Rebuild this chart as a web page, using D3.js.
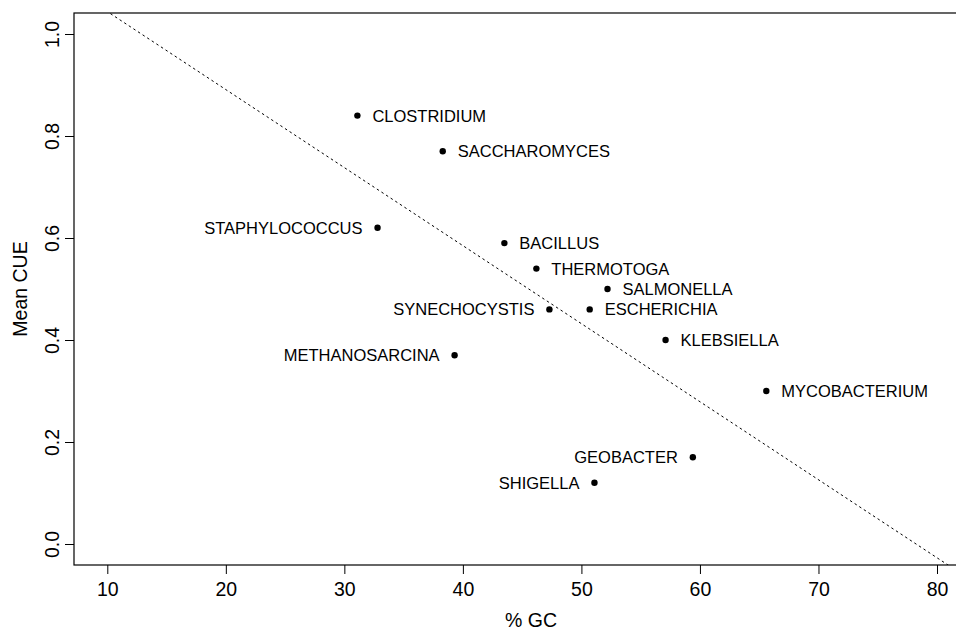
<!DOCTYPE html>
<html>
<head>
<meta charset="utf-8">
<script src="https://cdn.jsdelivr.net/npm/d3@7"></script>
<style>
  body { margin: 0; background: #fff; }
  text { font-family: "Liberation Sans", Arial, Helvetica, sans-serif; fill: #000; }
</style>
</head>
<body>
<div id="chart"></div>
<script>
// organisms, % GC and mean CUE
var genus = ['CLOSTRIDIUM', 'SACCHAROMYCES', 'STAPHYLOCOCCUS', 'BACILLUS', 'THERMOTOGA',
  'SALMONELLA', 'SYNECHOCYSTIS', 'ESCHERICHIA', 'KLEBSIELLA', 'METHANOSARCINA',
  'MYCOBACTERIUM', 'GEOBACTER', 'SHIGELLA'];
var gc = [31.1, 38.3, 32.8, 43.5, 46.2, 52.2, 47.3, 50.7, 57.1, 39.3, 65.6, 59.4, 51.1];
var cue = [0.84, 0.77, 0.62, 0.59, 0.54, 0.50, 0.46, 0.46, 0.40, 0.37, 0.30, 0.17, 0.12];
// labels drawn to the left of their point
var leftLabels = ['STAPHYLOCOCCUS', 'SYNECHOCYSTIS', 'METHANOSARCINA', 'GEOBACTER', 'SHIGELLA'];

var xTicks = [10, 20, 30, 40, 50, 60, 70, 80];
var yTicks = [0, 0.2, 0.4, 0.6, 0.8, 1.0];

// dashed trend line: cue = fitA + fitB * gc
var fitA = 1.197, fitB = -0.0153;

var W = 956, H = 632;
var box = { left: 74, top: 13, right: 970, bottom: 565 };

var svg = d3.select('#chart').append('svg')
  .attr('width', W)
  .attr('height', H);

var xScale = d3.scaleLinear().domain([10, 80]).range([107.3, 937]);
var yScale = d3.scaleLinear().domain([0, 1]).range([544, 34]);

svg.append('clipPath').attr('id', 'plotclip')
  .append('rect')
  .attr('x', box.left).attr('y', box.top)
  .attr('width', box.right - box.left).attr('height', box.bottom - box.top);

// box
svg.append('rect')
  .attr('x', box.left).attr('y', box.top)
  .attr('width', box.right - box.left).attr('height', box.bottom - box.top)
  .attr('fill', 'none')
  .attr('stroke', '#000')
  .attr('stroke-width', 1.2);

// axes
var xAxis = d3.axisBottom(xScale).tickValues(xTicks).tickSize(9).tickPadding(8)
  .tickFormat(d3.format('d'));
var gx = svg.append('g')
  .attr('transform', 'translate(0,' + box.bottom + ')')
  .call(xAxis);
gx.select('.domain').remove();
gx.selectAll('text').style('font-size', '19.5px').attr('font-family', null);
gx.selectAll('line').attr('stroke-width', 1);

var yAxis = d3.axisLeft(yScale).tickValues(yTicks).tickSize(9)
  .tickFormat(d3.format('.1f'));
var gy = svg.append('g')
  .attr('transform', 'translate(' + box.left + ',0)')
  .call(yAxis);
gy.select('.domain').remove();
gy.selectAll('line').attr('stroke-width', 1);
gy.selectAll('text')
  .attr('x', null).attr('dy', null)
  .attr('text-anchor', 'middle')
  .attr('transform', 'translate(-22,0) rotate(-90)')
  .attr('y', 0)
  .attr('dy', '0.35em')
  .style('font-size', '19.5px')
  .attr('font-family', null);

// axis titles
svg.append('text')
  .attr('x', 531).attr('y', 620)
  .attr('dy', '0.35em')
  .attr('text-anchor', 'middle')
  .style('font-size', '19.5px')
  .text('% GC');

svg.append('text')
  .attr('transform', 'translate(20,' + ((box.top + box.bottom) / 2) + ') rotate(-90)')
  .attr('dy', '0.35em')
  .attr('text-anchor', 'middle')
  .style('font-size', '19.5px')
  .text('Mean CUE');

// trend line
var lineData = [6, 84].map(function(g) { return { gc: g, cue: fitA + fitB * g }; });
var trend = d3.line()
  .x(function(d) { return xScale(d.gc); })
  .y(function(d) { return yScale(d.cue); });

svg.append('path')
  .attr('d', trend(lineData))
  .attr('clip-path', 'url(#plotclip)')
  .attr('fill', 'none')
  .attr('stroke', '#000')
  .attr('stroke-width', 1)
  .attr('stroke-dasharray', '2.5,3');

// points
var pts = genus.map(function(g, i) { return { name: g, gc: gc[i], cue: cue[i] }; });

svg.append('g')
  .selectAll('circle')
  .data(pts)
  .enter()
  .append('circle')
  .attr('cx', function(d) { return xScale(d.gc); })
  .attr('cy', function(d) { return yScale(d.cue); })
  .attr('r', 3.2)
  .attr('fill', '#000');

svg.append('g')
  .selectAll('text')
  .data(pts)
  .enter()
  .append('text')
  .attr('x', function(d) {
    var left = leftLabels.indexOf(d.name) >= 0;
    return xScale(d.gc) + (left ? -15 : 15);
  })
  .attr('y', function(d) { return yScale(d.cue); })
  .attr('dy', '0.36em')
  .attr('text-anchor', function(d) { return leftLabels.indexOf(d.name) >= 0 ? 'end' : 'start'; })
  .style('font-size', '16.5px')
  .text(function(d) { return d.name; });
</script>
</body>
</html>
